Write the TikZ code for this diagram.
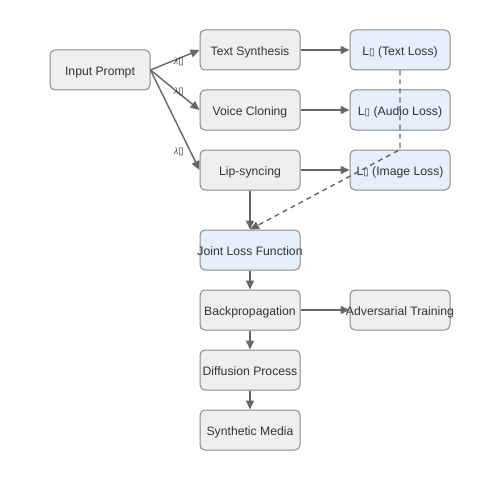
\documentclass[tikz,border=0pt]{standalone}
\usepackage{fontspec}
\setmainfont{Liberation Sans}
\newfontfamily\symfont{DejaVu Sans}
\newfontfamily\serifit{Liberation Serif}
\usetikzlibrary{arrows.meta}
\definecolor{boxgray}{HTML}{EFEFEF}
\definecolor{boxblue}{HTML}{E6F0FC}
\definecolor{edgegray}{HTML}{888888}
\definecolor{linegray}{HTML}{666666}
\definecolor{txt}{HTML}{333333}
\newcommand{\tofu}{{\symfont\fontsize{10}{10}\selectfont ▯}}
\newcommand{\fixw}[1]{\makebox[100pt][c]{#1}}
\tikzset{
  procbox/.style={draw=edgegray, fill=boxgray, rounded corners=5pt, line width=1pt,
    minimum width=100pt, minimum height=40pt, inner sep=0pt, text=txt,
    text height=13.8pt, text depth=2.6pt,
    font=\fontsize{12.2}{14}\selectfont},
  lossbox/.style={procbox, fill=boxblue},
  conn/.style={draw=linegray, line width=1.4pt, -{Triangle[length=9pt,width=8pt]}},
  dconn/.style={conn, dashed, dash pattern=on 5pt off 4pt},
  wlabel/.style={font=\serifit\itshape\fontsize{9.5}{9.5}\selectfont, text=txt, inner sep=0pt}
}
\begin{document}
\begin{tikzpicture}[x=1pt,y=-1pt]
\useasboundingbox (0,0) rectangle (500,500);
\node[procbox] (inp) at (100,70) {\fixw{Input Prompt}};
\node[procbox] (ts) at (250,50) {\fixw{Text Synthesis}};
\node[procbox] (vc) at (250,110) {\fixw{Voice Cloning}};
\node[procbox] (ls) at (250,170) {\fixw{Lip-syncing}};
\node[lossbox] (lt) at (400,50) {\fixw{L\tofu{} (Text Loss)}};
\node[lossbox] (la) at (400,110) {\fixw{L\tofu{} (Audio Loss)}};
\node[lossbox] (li) at (400,170) {\fixw{L\tofu{} (Image Loss)}};
\node[lossbox] (jl) at (250,250) {\fixw{Joint Loss Function}};
\node[procbox] (bp) at (250,310) {\fixw{Backpropagation}};
\node[procbox] (at) at (400,310) {\fixw{Adversarial Training}};
\node[procbox] (dp) at (250,370) {\fixw{Diffusion Process}};
\node[procbox] (sm) at (250,430) {\fixw{Synthetic Media}};

\draw[conn] (inp.east) -- (ts.west);
\draw[conn] (inp.east) -- (vc.west);
\draw[conn] (inp.east) -- (ls.west);
\node[wlabel] (w1) at (179,62) {λ\tofu};
\node[wlabel] (w2) at (179,92) {λ\tofu};
\node[wlabel] (w3) at (179,152) {λ\tofu};

\draw[conn] (ts.east) -- (lt.west);
\draw[conn] (vc.east) -- (la.west);
\draw[conn] (ls.east) -- (li.west);
\draw[conn] (ls.south) -- (jl.north);
\draw[dconn] (lt.south) -- (li.north) -- (jl.north);
\draw[conn] (jl.south) -- (bp.north);
\draw[conn] (bp.east) -- (at.west);
\draw[conn] (bp.south) -- (dp.north);
\draw[conn] (dp.south) -- (sm.north);
\end{tikzpicture}
\end{document}
